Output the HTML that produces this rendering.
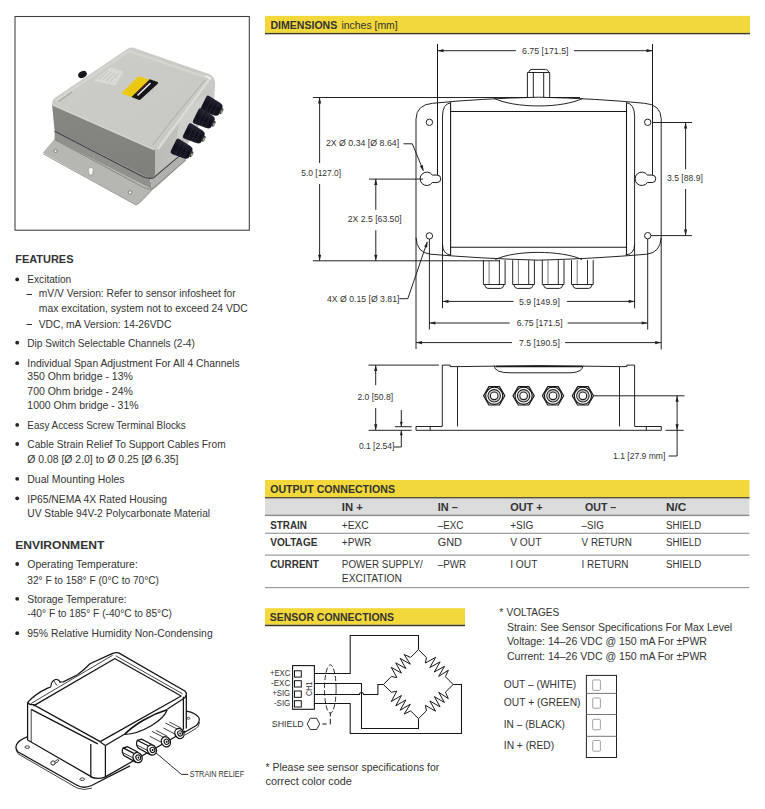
<!DOCTYPE html><html><head><meta charset="utf-8"><title>Junction Box Datasheet</title><style>html,body{margin:0;padding:0;background:#fff;}body{width:765px;height:809px;overflow:hidden;font-family:"Liberation Sans",sans-serif;}svg{display:block;} svg text{font-family:"Liberation Sans",sans-serif;fill:#333;}</style></head><body>
<svg width="765" height="809" viewBox="0 0 765 809">
<rect x="15" y="16.5" width="234.3" height="213.7" fill="#fff" stroke="#3c3c3c" stroke-width="1.05"/>
<defs><linearGradient id="lf" x1="0" y1="0" x2="0" y2="1"><stop offset="0" stop-color="#878884"/><stop offset="1" stop-color="#7f807c"/></linearGradient><linearGradient id="lt" x1="0" y1="0" x2="1" y2="1"><stop offset="0" stop-color="#cdcdc8"/><stop offset="1" stop-color="#c8c8c3"/></linearGradient><linearGradient id="rf" x1="0" y1="0" x2="1" y2="0"><stop offset="0" stop-color="#b9bab6"/><stop offset="1" stop-color="#cacac6"/></linearGradient><linearGradient id="gl" x1="0" y1="0" x2="0" y2="1"><stop offset="0" stop-color="#262636"/><stop offset="0.5" stop-color="#10101c"/><stop offset="1" stop-color="#1a1a26"/></linearGradient></defs>
<path d="M42.8,152.8 L54.6,139 L153,189 L143,199.5 Q140,203 136,205 Z" fill="#b6b7b3"/>
<path d="M43.5,154 L136,205 Q140,203 143,199.5 L153,189" stroke="#8e8f8b" stroke-width="0.9" fill="none"/>
<circle cx="55.6" cy="151" r="1.6" fill="#f0f0f0" stroke="#6e6e6a" stroke-width="0.8"/>
<circle cx="130.1" cy="192.5" r="1.8" fill="#f0f0f0" stroke="#6e6e6a" stroke-width="0.8"/>
<path d="M88.6,171.3 a2.6,2.6 0 1 1 4.4,0 L92.6,175 L89,175 Z" fill="#f4f4f4" stroke="#8a8a86" stroke-width="0.6"/>
<path d="M54.6,131.2 L150,178.3 L152,189 L54.6,139.5 Z" fill="#90918d"/>
<path d="M150,178.3 Q154,178.5 157,176 L186,151 L186,160 L156,187.5 Q154,189.5 152,189 Z" fill="#b0b1ad"/>
<path d="M54.6,139.5 L144,187.7 Q148,189.5 152,189 L186,160" stroke="#7a7b77" stroke-width="0.8" fill="none"/>
<path d="M149,150 L212.7,76.6 Q215.5,80 215,86 L214,101 L184,150 L157,176 Q154.5,178.3 150,178.3 Z" fill="url(#rf)"/>
<path d="M52.1,104.7 L155,149.5 L155,173.5 Q154.5,178.3 149,178 L54.6,131.2 Z" fill="url(#lf)"/>
<path d="M180,118 Q192,102 205,95 Q207,106 198,121 Q188,136 176,142 Z" fill="#cfcfcb"/>
<path d="M54.6,131.2 L143,176.8 Q150,179.5 154,177.5 L184,152" stroke="#45454d" stroke-width="1.1" fill="none"/>
<path d="M52.1,104.7 Q51.8,99.5 56.5,96.8 L128,48.5 Q130.4,46.8 133.5,47.8 L209,74 Q214,76 212.2,79.5 L159,147.5 Q157,150.5 153.5,149.5 Z" fill="url(#lt)"/>
<path d="M56,100.5 L129,51 L207,77.5" stroke="#d6d6d1" stroke-width="2.2" fill="none"/>
<path d="M58.5,101.5 L72,92" stroke="#8a8a86" stroke-width="0.8" fill="none"/>
<path d="M205,80 L172,120 L153,144.6" stroke="#9c9c98" stroke-width="0.7" fill="none"/>
<path d="M210,78.5 L179.3,120 L157.9,149" stroke="#dcdcd7" stroke-width="2.4" fill="none"/>
<path d="M53,105 L154,149.5" stroke="#d3d3ce" stroke-width="1.4" fill="none"/>
<path d="M205.5,76 Q209,77 211,79" stroke="#f4f4f4" stroke-width="1.5" fill="none"/>
<path d="M93.9,80.9 L110.6,67.3 L123.7,71.5 L115.3,85.6 Z" fill="#d9d9d5"/>
<path d="M99.0,79.5 L108.0,71.0" stroke="#a8a8a3" stroke-width="0.5"/>
<path d="M102.5,80.3 L111.5,71.8" stroke="#a8a8a3" stroke-width="0.5"/>
<path d="M106.0,81.1 L115.0,72.6" stroke="#a8a8a3" stroke-width="0.5"/>
<path d="M109.5,81.9 L118.5,73.4" stroke="#a8a8a3" stroke-width="0.5"/>
<path d="M121.1,93.5 L138.3,76.2 L157.7,82 L139.4,99.7 Z" fill="#ebc912"/>
<path d="M131.5,97.1 L149.8,79.3 L157.7,82 Q158.5,83 157.5,84 L140.5,99.6 Q139.5,100.3 138,99.6 Z" fill="#15151a"/>
<path d="M137.5,95.5 L150.5,83" stroke="#ececec" stroke-width="1.6"/>
<path d="M136,94 L148.5,82" stroke="#c03030" stroke-width="0.5"/>
<ellipse cx="82.5" cy="74.5" rx="4.5" ry="3.2" fill="#16161f" transform="rotate(-25 82.5 74.5)"/>
<g transform="translate(213.2,107.2) rotate(26)"><path d="M-8.5,-8.4 L4.5,-7 Q8.5,-6.5 8.5,-3 L8.5,3 Q8.5,6.5 4.5,7 L-8.5,8.4 Q-10.8,8.4 -10.8,6 L-10.8,-6 Q-10.8,-8.4 -8.5,-8.4 Z" fill="url(#gl)"/><path d="M-5,-7.9 L-5,7.9 M-1,-7.5 L-1,7.5 M3,-7.1 L3,7.1" stroke="#2c2c38" stroke-width="0.6"/><ellipse cx="9" cy="0" rx="1.6" ry="3.2" fill="#3a3a3c"/><ellipse cx="9.6" cy="0.2" rx="0.8" ry="1.6" fill="#b0aa88"/></g>
<g transform="translate(205.4,119.8) rotate(26)"><path d="M-8.5,-8.4 L4.5,-7 Q8.5,-6.5 8.5,-3 L8.5,3 Q8.5,6.5 4.5,7 L-8.5,8.4 Q-10.8,8.4 -10.8,6 L-10.8,-6 Q-10.8,-8.4 -8.5,-8.4 Z" fill="url(#gl)"/><path d="M-5,-7.9 L-5,7.9 M-1,-7.5 L-1,7.5 M3,-7.1 L3,7.1" stroke="#2c2c38" stroke-width="0.6"/><ellipse cx="9" cy="0" rx="1.6" ry="3.2" fill="#3a3a3c"/><ellipse cx="9.6" cy="0.2" rx="0.8" ry="1.6" fill="#b0aa88"/></g>
<g transform="translate(195.4,134.8) rotate(26)"><path d="M-8.5,-8.4 L4.5,-7 Q8.5,-6.5 8.5,-3 L8.5,3 Q8.5,6.5 4.5,7 L-8.5,8.4 Q-10.8,8.4 -10.8,6 L-10.8,-6 Q-10.8,-8.4 -8.5,-8.4 Z" fill="url(#gl)"/><path d="M-5,-7.9 L-5,7.9 M-1,-7.5 L-1,7.5 M3,-7.1 L3,7.1" stroke="#2c2c38" stroke-width="0.6"/><ellipse cx="9" cy="0" rx="1.6" ry="3.2" fill="#3a3a3c"/><ellipse cx="9.6" cy="0.2" rx="0.8" ry="1.6" fill="#b0aa88"/></g>
<g transform="translate(183.2,150.2) rotate(26)"><path d="M-8.5,-8.4 L4.5,-7 Q8.5,-6.5 8.5,-3 L8.5,3 Q8.5,6.5 4.5,7 L-8.5,8.4 Q-10.8,8.4 -10.8,6 L-10.8,-6 Q-10.8,-8.4 -8.5,-8.4 Z" fill="url(#gl)"/><path d="M-5,-7.9 L-5,7.9 M-1,-7.5 L-1,7.5 M3,-7.1 L3,7.1" stroke="#2c2c38" stroke-width="0.6"/><ellipse cx="9" cy="0" rx="1.6" ry="3.2" fill="#3a3a3c"/><ellipse cx="9.6" cy="0.2" rx="0.8" ry="1.6" fill="#b0aa88"/></g>
<text x="15.2" y="262.9" font-size="11.4" font-weight="bold" fill="#1e1e1e" textLength="58.3" lengthAdjust="spacingAndGlyphs">FEATURES</text>
<circle cx="17.2" cy="279.4" r="1.9" fill="#222"/>
<text x="27.3" y="283.0" font-size="10.5" textLength="43.9" lengthAdjust="spacingAndGlyphs">Excitation</text>
<rect x="26.5" y="294" width="5.5" height="1" fill="#333"/>
<text x="38.8" y="297.2" font-size="10.5" textLength="196.9" lengthAdjust="spacingAndGlyphs">mV/V Version: Refer to sensor infosheet for</text>
<text x="38.8" y="311.9" font-size="10.5" textLength="209.0" lengthAdjust="spacingAndGlyphs">max excitation, system not to exceed 24 VDC</text>
<rect x="26.5" y="324" width="5.5" height="1" fill="#333"/>
<text x="38.8" y="327.5" font-size="10.5" textLength="132.5" lengthAdjust="spacingAndGlyphs">VDC, mA Version: 14-26VDC</text>
<circle cx="17.2" cy="342.7" r="1.9" fill="#222"/>
<text x="27.3" y="346.5" font-size="10.5" textLength="167.5" lengthAdjust="spacingAndGlyphs">Dip Switch Selectable Channels (2-4)</text>
<circle cx="17.2" cy="363.2" r="1.9" fill="#222"/>
<text x="27.3" y="367.2" font-size="10.5" textLength="212.5" lengthAdjust="spacingAndGlyphs">Individual Span Adjustment For All 4 Channels</text>
<text x="27.3" y="379.7" font-size="10.5" textLength="105.5" lengthAdjust="spacingAndGlyphs">350 Ohm bridge - 13%</text>
<text x="27.3" y="394.5" font-size="10.5" textLength="105.5" lengthAdjust="spacingAndGlyphs">700 Ohm bridge - 24%</text>
<text x="27.3" y="409.2" font-size="10.5" textLength="111.3" lengthAdjust="spacingAndGlyphs">1000 Ohm bridge - 31%</text>
<circle cx="17.2" cy="424.9" r="1.9" fill="#222"/>
<text x="27.3" y="428.6" font-size="10.5" textLength="158.5" lengthAdjust="spacingAndGlyphs">Easy Access Screw Terminal Blocks</text>
<circle cx="17.2" cy="444.0" r="1.9" fill="#222"/>
<text x="27.3" y="447.7" font-size="10.5" textLength="198.4" lengthAdjust="spacingAndGlyphs">Cable Strain Relief To Support Cables From</text>
<text x="27.3" y="463.2" font-size="10.5" textLength="151.2" lengthAdjust="spacingAndGlyphs">Ø 0.08 [Ø 2.0] to Ø 0.25 [Ø 6.35]</text>
<circle cx="17.2" cy="478.8" r="1.9" fill="#222"/>
<text x="27.3" y="482.5" font-size="10.5" textLength="97.3" lengthAdjust="spacingAndGlyphs">Dual Mounting Holes</text>
<circle cx="17.2" cy="498.3" r="1.9" fill="#222"/>
<text x="27.3" y="502.6" font-size="10.5" textLength="139.8" lengthAdjust="spacingAndGlyphs">IP65/NEMA 4X Rated Housing</text>
<text x="27.3" y="516.8" font-size="10.5" textLength="182.8" lengthAdjust="spacingAndGlyphs">UV Stable 94V-2 Polycarbonate Material</text>
<text x="15.2" y="548.8" font-size="11.4" font-weight="bold" fill="#1e1e1e" textLength="89.1" lengthAdjust="spacingAndGlyphs">ENVIRONMENT</text>
<circle cx="17.2" cy="564.0" r="1.9" fill="#222"/>
<text x="27.3" y="567.7" font-size="10.5" textLength="110.5" lengthAdjust="spacingAndGlyphs">Operating Temperature:</text>
<text x="27.3" y="583.6" font-size="10.5" textLength="131.6" lengthAdjust="spacingAndGlyphs">32° F to 158° F (0°C to 70°C)</text>
<circle cx="17.2" cy="598.8" r="1.9" fill="#222"/>
<text x="27.3" y="602.5" font-size="10.5" textLength="99.2" lengthAdjust="spacingAndGlyphs">Storage Temperature:</text>
<text x="27.3" y="617.0" font-size="10.5" textLength="144.6" lengthAdjust="spacingAndGlyphs">-40° F to 185° F (-40°C to 85°C)</text>
<circle cx="17.2" cy="633.2" r="1.9" fill="#222"/>
<text x="27.3" y="637.0" font-size="10.5" textLength="185.4" lengthAdjust="spacingAndGlyphs">95% Relative Humidity Non-Condensing</text>
<path d="M27.3,736.9 Q19,740 17,743.9 Q14.5,748 17.8,751.8 L77.5,785.5 Q83.7,789 91.6,785.5 L130,765.9" stroke="#141414" stroke-width="1.25" fill="none"/>
<path d="M16.5,750 Q17,754 20,755 L77,788 Q84,791 92,788" stroke="#141414" stroke-width="0.8" fill="none"/>
<path d="M186.3,711.1 Q191,711.5 194.9,714 Q200,717 199.2,720.5 Q198.5,724 196.3,725.5 L183.4,733" stroke="#141414" stroke-width="1.25" fill="none"/>
<path d="M199.5,722 Q199,727 196,728.5 L185,735" stroke="#141414" stroke-width="0.8" fill="none"/>
<ellipse cx="27.3" cy="747.1" rx="2.3" ry="1.3" fill="none" stroke="#141414" stroke-width="0.8"/>
<ellipse cx="82.2" cy="779.2" rx="2.3" ry="1.3" fill="none" stroke="#141414" stroke-width="0.8"/>
<ellipse cx="188.4" cy="718.3" rx="1.5" ry="1" fill="none" stroke="#141414" stroke-width="0.7"/>
<circle cx="53" cy="763" r="2.1" fill="none" stroke="#141414" stroke-width="0.9"/>
<path d="M54.6,761.6 L57.5,759.6 Q59,759.5 58.6,761 L55.2,763.6" stroke="#141414" stroke-width="0.8" fill="none"/>
<path d="M27.6,702.4 L27.6,740 L91.6,776.9" stroke="#141414" stroke-width="1.25" fill="none"/>
<path d="M31.2,709.4 L31.2,742" stroke="#141414" stroke-width="0.8" fill="none"/>
<path d="M90.8,743.9 L90.8,776.9 Q97.8,780 105.4,776.9 L105.4,745.5" stroke="#141414" stroke-width="1.25" fill="none"/>
<path d="M31.2,709.4 L97.8,743.9" stroke="#141414" stroke-width="1.25" fill="none"/>
<path d="M27.6,702.4 Q35,694 47.6,688.1 L50.8,687 M59,682 L63.3,681.9 L77.5,674.8 Q84,670 90,663.8 L110.4,654.4 Q114.5,652 118.7,652.9 L184.8,691 Q187,693 186.3,694.6" stroke="#141414" stroke-width="1.25" fill="none"/>
<path d="M50.8,687 Q51,681 55.5,679.5 Q59,679 60.5,682.5" stroke="#141414" stroke-width="1.1" fill="none"/>
<path d="M53.5,680.5 L57,685.5" stroke="#141414" stroke-width="0.8" fill="none"/>
<path d="M31.2,703.4 L112.7,655.2" stroke="#141414" stroke-width="0.8" fill="none"/>
<path d="M33.5,705.9 L115.4,658.3" stroke="#141414" stroke-width="1.25" fill="none"/>
<path d="M115.8,655.8 L182.7,693.9" stroke="#141414" stroke-width="0.8" fill="none"/>
<path d="M115.1,658.7 L181.2,696" stroke="#141414" stroke-width="1.25" fill="none"/>
<path d="M27.6,702.4 Q29,705 33.5,704.7 L100.2,741.6" stroke="#141414" stroke-width="1.25" fill="none"/>
<path d="M100.2,741.6 Q102.5,744 105.4,745.5" stroke="#141414" stroke-width="1.25" fill="none"/>
<path d="M100.2,741.6 L181.2,696 M105.4,745.5 L124.4,734.3 M167.2,709.2 L184.1,698.2 Q186,697 186.3,694.6" stroke="#141414" stroke-width="1.25" fill="none"/>
<path d="M186.3,694.6 L186.3,728.4 M183.4,696.8 L183.4,729.8" stroke="#141414" stroke-width="1.25" fill="none"/>
<path d="M105.4,776.9 L185.3,731" stroke="#141414" stroke-width="1.25" fill="none"/>
<path d="M124.4,734.5 C134,724.5 151,714.5 167.2,709.8" stroke="#141414" stroke-width="1.7" fill="none"/>
<path d="M167.2,709.8 C164,720 142,734 124.4,734.5" stroke="#141414" stroke-width="1.2" fill="none"/>
<path d="M133.79999999999998,753.4 L123.14399999999998,747.88 Q121.64399999999998,749.88 122.44399999999999,752.58 L123.94399999999999,755.58 L136.1,762.4" stroke="#141414" stroke-width="1.25" fill="#fff"/>
<path d="M138.1,752.3000000000001 L127.44399999999999,746.7800000000001 L123.14399999999998,747.88" stroke="#141414" stroke-width="1.25" fill="none"/>
<path d="M133.0,757.9 L122.344,752.38" stroke="#141414" stroke-width="0.8" fill="none"/>
<ellipse cx="137.6" cy="757.6" rx="4.4" ry="5.2" fill="#fff" stroke="#141414" stroke-width="1.4" transform="rotate(-30 137.6 757.6)"/>
<ellipse cx="138.2" cy="757.9" rx="2.3" ry="2.7" fill="none" stroke="#141414" stroke-width="1.1" transform="rotate(-30 137.6 757.6)"/>
<ellipse cx="138.29999999999998" cy="758.0" rx="0.9" ry="1.1" fill="#141414" transform="rotate(-30 137.6 757.6)"/>
<path d="M148.0,745.8 L137.344,740.28 Q135.844,742.28 136.644,744.98 L138.144,747.98 L150.3,754.8" stroke="#141414" stroke-width="1.25" fill="#fff"/>
<path d="M152.3,744.7 L141.644,739.1800000000001 L137.344,740.28" stroke="#141414" stroke-width="1.25" fill="none"/>
<path d="M147.20000000000002,750.3 L136.544,744.78" stroke="#141414" stroke-width="0.8" fill="none"/>
<ellipse cx="151.8" cy="750" rx="4.4" ry="5.2" fill="#fff" stroke="#141414" stroke-width="1.4" transform="rotate(-30 151.8 750)"/>
<ellipse cx="152.4" cy="750.3" rx="2.3" ry="2.7" fill="none" stroke="#141414" stroke-width="1.1" transform="rotate(-30 151.8 750)"/>
<ellipse cx="152.5" cy="750.4" rx="0.9" ry="1.1" fill="#141414" transform="rotate(-30 151.8 750)"/>
<path d="M163.4,737.1999999999999 L151.856,731.2199999999999" stroke="#141414" stroke-width="0.8" fill="none"/>
<path d="M167.4,736.3 L155.856,730.3199999999999" stroke="#141414" stroke-width="0.8" fill="none"/>
<path d="M161.4,742.3 L149.856,736.3199999999999" stroke="#141414" stroke-width="0.8" fill="none"/>
<ellipse cx="165.9" cy="741.8" rx="4.4" ry="5.2" fill="#fff" stroke="#141414" stroke-width="1.4" transform="rotate(-30 165.9 741.8)"/>
<ellipse cx="166.5" cy="742.0999999999999" rx="2.3" ry="2.7" fill="none" stroke="#141414" stroke-width="1.1" transform="rotate(-30 165.9 741.8)"/>
<ellipse cx="166.6" cy="742.1999999999999" rx="0.9" ry="1.1" fill="#141414" transform="rotate(-30 165.9 741.8)"/>
<path d="M176.9,728.9 L165.356,722.92" stroke="#141414" stroke-width="0.8" fill="none"/>
<path d="M180.9,728.0 L169.356,722.02" stroke="#141414" stroke-width="0.8" fill="none"/>
<path d="M174.9,734.0 L163.356,728.02" stroke="#141414" stroke-width="0.8" fill="none"/>
<ellipse cx="179.4" cy="733.5" rx="4.4" ry="5.2" fill="#fff" stroke="#141414" stroke-width="1.4" transform="rotate(-30 179.4 733.5)"/>
<ellipse cx="180.0" cy="733.8" rx="2.3" ry="2.7" fill="none" stroke="#141414" stroke-width="1.1" transform="rotate(-30 179.4 733.5)"/>
<ellipse cx="180.1" cy="733.9" rx="0.9" ry="1.1" fill="#141414" transform="rotate(-30 179.4 733.5)"/>
<path d="M155.9,752.8 L181.4,774.4 L188.2,774.4" stroke="#141414" stroke-width="0.9" fill="none"/>
<text x="189.8" y="776.8" font-size="8.2" textLength="54.3" lengthAdjust="spacingAndGlyphs">STRAIN RELIEF</text>
<rect x="265" y="15.9" width="485" height="17.0" fill="#f2d83a"/>
<rect x="265" y="32.9" width="485" height="1.4" fill="#403c2a"/>
<rect x="265.5" y="34.3" width="484.5" height="0.7" fill="#c4c2bb"/>
<text x="270.4" y="28.8" font-size="11" font-weight="bold" fill="#1e1e1e" textLength="66.9" lengthAdjust="spacingAndGlyphs">DIMENSIONS</text>
<text x="341.5" y="28.8" font-size="10.6" fill="#2a2a2a" textLength="56.2" lengthAdjust="spacingAndGlyphs">inches [mm]</text>
<line x1="437.5" y1="44" x2="437.5" y2="175" stroke="#181818" stroke-width="0.95"/>
<line x1="652.5" y1="44" x2="652.5" y2="122.5" stroke="#181818" stroke-width="0.95"/>
<line x1="437.5" y1="50.7" x2="515.9" y2="50.7" stroke="#181818" stroke-width="0.95"/>
<line x1="574" y1="50.7" x2="652.5" y2="50.7" stroke="#181818" stroke-width="0.95"/>
<path d="M437.50,50.70 L443.50,49.10 L443.50,52.30 Z" fill="#222"/>
<path d="M652.50,50.70 L646.50,52.30 L646.50,49.10 Z" fill="#222"/>
<text x="522.0" y="53.9" font-size="8.8" textLength="46.5" lengthAdjust="spacingAndGlyphs">6.75 [171.5]</text>
<line x1="312.9" y1="97.5" x2="527.4" y2="97.5" stroke="#181818" stroke-width="0.95"/>
<line x1="549.7" y1="97.5" x2="580" y2="97.5" stroke="#181818" stroke-width="0.95"/>
<line x1="319.6" y1="97.5" x2="319.6" y2="163" stroke="#181818" stroke-width="0.95"/>
<line x1="319.6" y1="184" x2="319.6" y2="260.8" stroke="#181818" stroke-width="0.95"/>
<path d="M319.60,97.50 L321.20,103.50 L318.00,103.50 Z" fill="#222"/>
<path d="M319.60,260.80 L318.00,254.80 L321.20,254.80 Z" fill="#222"/>
<text x="301.3" y="176.0" font-size="8.8" textLength="39.8" lengthAdjust="spacingAndGlyphs">5.0 [127.0]</text>
<line x1="312.9" y1="260.8" x2="500" y2="260.8" stroke="#181818" stroke-width="0.95"/>
<line x1="375.8" y1="179" x2="375.8" y2="209.8" stroke="#181818" stroke-width="0.95"/>
<line x1="375.8" y1="230.2" x2="375.8" y2="260.8" stroke="#181818" stroke-width="0.95"/>
<path d="M375.80,179.00 L377.40,185.00 L374.20,185.00 Z" fill="#222"/>
<path d="M375.80,260.80 L374.20,254.80 L377.40,254.80 Z" fill="#222"/>
<text x="347.8" y="222.0" font-size="8.8" textLength="53.8" lengthAdjust="spacingAndGlyphs">2X 2.5 [63.50]</text>
<text x="325.9" y="145.9" font-size="8.8" textLength="73.2" lengthAdjust="spacingAndGlyphs">2X Ø 0.34 [Ø 8.64]</text>
<path d="M403.5,143.8 L412.3,143.8 L423.3,170.5" stroke="#181818" stroke-width="0.95" fill="none"/>
<path d="M423.50,171.30 L419.87,166.26 L422.86,165.12 Z" fill="#222"/>
<text x="327.0" y="301.9" font-size="8.8" textLength="72.4" lengthAdjust="spacingAndGlyphs">4X Ø 0.15 [Ø 3.81]</text>
<path d="M399.4,298.7 L407.8,298.7 L427.3,241.8" stroke="#181818" stroke-width="0.95" fill="none"/>
<path d="M427.50,241.40 L427.20,247.60 L424.15,246.63 Z" fill="#222"/>
<path d="M416,119 Q416.5,104.5 432.7,103.3 Q480,98.5 538.6,97.2 Q597,98.5 644.5,103.3 Q661,104.5 661.2,119 L661.2,237.5 Q660.5,252.5 646.9,254.2 Q597,258.5 538.6,260.2 Q480,258.5 430.3,254.2 Q416.5,252.5 416,237.5 Z" stroke="#181818" stroke-width="0.95" fill="none"/>
<path d="M442.5,116 Q442.5,104 451,102.6 M626.5,102.6 Q634.6,104 634.6,116.4 M634.6,244.3 Q634.6,254 625.6,255 M451,255.2 Q442.5,254 442.5,244" stroke="#181818" stroke-width="0.95" fill="none"/>
<line x1="442.5" y1="116" x2="442.5" y2="308.3" stroke="#181818" stroke-width="0.95"/>
<line x1="634.6" y1="116.4" x2="634.6" y2="308.3" stroke="#181818" stroke-width="0.95"/>
<line x1="450.6" y1="102.6" x2="450.6" y2="255.2" stroke="#181818" stroke-width="1.1"/>
<line x1="626.5" y1="102.6" x2="626.5" y2="255.2" stroke="#181818" stroke-width="1.1"/>
<line x1="450.6" y1="111.5" x2="626.5" y2="111.5" stroke="#181818" stroke-width="1.1"/>
<line x1="450.6" y1="247.3" x2="626.5" y2="247.3" stroke="#181818" stroke-width="1.1"/>
<path d="M494,98.3 C515,108.5 562,108.5 583,98.3" stroke="#181818" stroke-width="0.95" fill="none"/>
<path d="M495.4,259.5 C515,250 561,250 582,259.5" stroke="#181818" stroke-width="0.95" fill="none"/>
<path d="M527.4,97.2 L527.4,72.5 L549.7,72.5 L549.7,97.2" stroke="#181818" stroke-width="0.95" fill="none"/>
<path d="M528.8,72 Q529.5,69.4 532,69.4 L545.5,69.4 Q548,69.4 548.6,72" stroke="#181818" stroke-width="0.95" fill="none"/>
<line x1="533.3" y1="72.5" x2="533.3" y2="97.2" stroke="#181818" stroke-width="0.95"/>
<line x1="543.7" y1="72.5" x2="543.7" y2="97.2" stroke="#181818" stroke-width="0.95"/>
<path d="M483.4,260.2 L483.4,284.5 L505.09999999999997,284.5 L505.09999999999997,260.2" stroke="#181818" stroke-width="0.95" fill="none"/>
<path d="M484.59999999999997,285 Q485.4,288.4 487.9,288.4 L500.59999999999997,288.4 Q503.09999999999997,288.4 503.9,285" stroke="#181818" stroke-width="0.95" fill="none"/>
<line x1="489.09999999999997" y1="260.2" x2="489.09999999999997" y2="284.5" stroke="#555" stroke-width="0.8"/>
<line x1="499.4" y1="260.2" x2="499.4" y2="284.5" stroke="#181818" stroke-width="0.9"/>
<path d="M512.7,260.2 L512.7,284.5 L534.4000000000001,284.5 L534.4000000000001,260.2" stroke="#181818" stroke-width="0.95" fill="none"/>
<path d="M513.9000000000001,285 Q514.7,288.4 517.2,288.4 L529.9000000000001,288.4 Q532.4000000000001,288.4 533.2,285" stroke="#181818" stroke-width="0.95" fill="none"/>
<line x1="518.4000000000001" y1="260.2" x2="518.4000000000001" y2="284.5" stroke="#555" stroke-width="0.8"/>
<line x1="528.7" y1="260.2" x2="528.7" y2="284.5" stroke="#181818" stroke-width="0.9"/>
<path d="M542.3,260.2 L542.3,284.5 L564.0,284.5 L564.0,260.2" stroke="#181818" stroke-width="0.95" fill="none"/>
<path d="M543.5,285 Q544.3,288.4 546.8,288.4 L559.5,288.4 Q562.0,288.4 562.8,285" stroke="#181818" stroke-width="0.95" fill="none"/>
<line x1="548.0" y1="260.2" x2="548.0" y2="284.5" stroke="#555" stroke-width="0.8"/>
<line x1="558.3" y1="260.2" x2="558.3" y2="284.5" stroke="#181818" stroke-width="0.9"/>
<path d="M571.5,260.2 L571.5,284.5 L593.2,284.5 L593.2,260.2" stroke="#181818" stroke-width="0.95" fill="none"/>
<path d="M572.7,285 Q573.5,288.4 576.0,288.4 L588.7,288.4 Q591.2,288.4 592.0,285" stroke="#181818" stroke-width="0.95" fill="none"/>
<line x1="577.2" y1="260.2" x2="577.2" y2="284.5" stroke="#555" stroke-width="0.8"/>
<line x1="587.5" y1="260.2" x2="587.5" y2="284.5" stroke="#181818" stroke-width="0.9"/>
<circle cx="429.4" cy="122.3" r="3.2" fill="#fff" stroke="#181818" stroke-width="0.95"/>
<circle cx="647.7" cy="122.3" r="3.2" fill="#fff" stroke="#181818" stroke-width="0.95"/>
<circle cx="429.4" cy="235.9" r="3.2" fill="#fff" stroke="#181818" stroke-width="0.95"/>
<circle cx="647.7" cy="235.7" r="3.2" fill="#fff" stroke="#181818" stroke-width="0.95"/>
<path d="M432.35,175.05 A6.7,6.7 0 1 0 432.35,182.55 L437.0,182.55 A3.75,3.75 0 0 0 437.0,175.05 Z" stroke="#181818" stroke-width="1.0" fill="#fff"/>
<path d="M647.3499999999999,175.05 A6.7,6.7 0 1 0 647.3499999999999,182.55 L652.0,182.55 A3.75,3.75 0 0 0 652.0,175.05 Z" stroke="#181818" stroke-width="1.0" fill="#fff"/>
<line x1="437.5" y1="44" x2="437.5" y2="175" stroke="#181818" stroke-width="0.95"/>
<line x1="652.5" y1="44" x2="652.5" y2="175" stroke="#181818" stroke-width="0.95"/>
<line x1="369" y1="179.1" x2="423.1" y2="179.1" stroke="#181818" stroke-width="0.95"/>
<line x1="652.3" y1="122.5" x2="692" y2="122.5" stroke="#181818" stroke-width="0.95"/>
<line x1="651" y1="235.6" x2="691.9" y2="235.6" stroke="#181818" stroke-width="0.95"/>
<line x1="685.6" y1="122.5" x2="685.6" y2="169.3" stroke="#181818" stroke-width="0.95"/>
<line x1="685.6" y1="189" x2="685.6" y2="235.6" stroke="#181818" stroke-width="0.95"/>
<path d="M685.60,122.50 L687.20,128.50 L684.00,128.50 Z" fill="#222"/>
<path d="M685.60,235.60 L684.00,229.60 L687.20,229.60 Z" fill="#222"/>
<text x="667.0" y="181.0" font-size="8.8" textLength="35.8" lengthAdjust="spacingAndGlyphs">3.5 [88.9]</text>
<line x1="416" y1="237.5" x2="416" y2="349.1" stroke="#181818" stroke-width="0.95"/>
<line x1="661.2" y1="237.5" x2="661.2" y2="349.5" stroke="#181818" stroke-width="0.95"/>
<line x1="429.4" y1="239" x2="429.4" y2="329.5" stroke="#181818" stroke-width="0.95"/>
<line x1="647.7" y1="239" x2="647.7" y2="329.6" stroke="#181818" stroke-width="0.95"/>
<line x1="442.5" y1="301.4" x2="513.5" y2="301.4" stroke="#181818" stroke-width="0.95"/>
<line x1="566.9" y1="301.4" x2="634.6" y2="301.4" stroke="#181818" stroke-width="0.95"/>
<path d="M442.50,301.40 L448.50,299.80 L448.50,303.00 Z" fill="#222"/>
<path d="M634.60,301.40 L628.60,303.00 L628.60,299.80 Z" fill="#222"/>
<text x="519.0" y="304.9" font-size="8.8" textLength="40.8" lengthAdjust="spacingAndGlyphs">5.9 [149.9]</text>
<line x1="429.4" y1="323.0" x2="509.6" y2="323.0" stroke="#181818" stroke-width="0.95"/>
<line x1="567.6" y1="323.0" x2="647.7" y2="323.0" stroke="#181818" stroke-width="0.95"/>
<path d="M429.40,323.00 L435.40,321.40 L435.40,324.60 Z" fill="#222"/>
<path d="M647.70,323.00 L641.70,324.60 L641.70,321.40 Z" fill="#222"/>
<text x="516.7" y="326.1" font-size="8.8" textLength="45.9" lengthAdjust="spacingAndGlyphs">6.75 [171.5]</text>
<line x1="416" y1="342.6" x2="512" y2="342.6" stroke="#181818" stroke-width="0.95"/>
<line x1="565" y1="342.6" x2="661.2" y2="342.6" stroke="#181818" stroke-width="0.95"/>
<path d="M416.00,342.60 L422.00,341.00 L422.00,344.20 Z" fill="#222"/>
<path d="M661.20,342.60 L655.20,344.20 L655.20,341.00 Z" fill="#222"/>
<text x="519.0" y="345.7" font-size="8.8" textLength="40.8" lengthAdjust="spacingAndGlyphs">7.5 [190.5]</text>
<line x1="368.4" y1="365.1" x2="438.8" y2="365.1" stroke="#181818" stroke-width="0.95"/>
<line x1="375.7" y1="365.1" x2="375.7" y2="385.2" stroke="#181818" stroke-width="0.95"/>
<line x1="375.7" y1="408" x2="375.7" y2="430.3" stroke="#181818" stroke-width="0.95"/>
<path d="M375.70,365.10 L377.30,371.10 L374.10,371.10 Z" fill="#222"/>
<path d="M375.70,430.30 L374.10,424.30 L377.30,424.30 Z" fill="#222"/>
<text x="357.4" y="399.8" font-size="8.8" textLength="35.7" lengthAdjust="spacingAndGlyphs">2.0 [50.8]</text>
<line x1="368.6" y1="430.3" x2="411.7" y2="430.3" stroke="#181818" stroke-width="0.95"/>
<line x1="395" y1="426.7" x2="411.7" y2="426.7" stroke="#181818" stroke-width="0.95"/>
<line x1="401.3" y1="410" x2="401.3" y2="426.7" stroke="#181818" stroke-width="0.95"/>
<path d="M401.30,426.70 L399.90,421.70 L402.70,421.70 Z" fill="#222"/>
<path d="M401.3,430.3 L401.3,447 L393.9,447" stroke="#181818" stroke-width="0.95" fill="none"/>
<path d="M401.30,430.30 L402.70,435.30 L399.90,435.30 Z" fill="#222"/>
<text x="358.9" y="448.6" font-size="8.8" textLength="35.5" lengthAdjust="spacingAndGlyphs">0.1 [2.54]</text>
<path d="M442.3,426.5 L416,426.5 L416,430.3 L661.3,430.3 L661.3,426.5 L634.6,426.5" stroke="#181818" stroke-width="0.95" fill="none"/>
<line x1="430.2" y1="426.5" x2="430.2" y2="430.3" stroke="#181818" stroke-width="0.95"/>
<line x1="646.3" y1="426.5" x2="646.3" y2="430.3" stroke="#181818" stroke-width="0.95"/>
<path d="M442.3,426.4 L442.3,365.1 L450.2,365.1 L450.2,366.6 L457.5,366.6 L457.5,426.4" stroke="#181818" stroke-width="0.95" fill="#fff"/>
<path d="M619.5,426.4 L619.5,366.6 L626.8,366.6 L626.8,365.1 L634.6,365.1 L634.6,426.4" stroke="#181818" stroke-width="0.95" fill="#fff"/>
<path d="M457.5,366.6 Q538.6,364.6 619.5,366.6" stroke="#181818" stroke-width="0.95" fill="none"/>
<path d="M494.2,365.6 Q494.5,372.8 510,372.8 L571,372.8 Q583,372 583,365.6" stroke="#181818" stroke-width="0.95" fill="none"/>
<path d="M496,366.5 L582,366.5" stroke="#181818" stroke-width="1.3" fill="none"/>
<polygon points="504.80,395.80 499.50,404.98 488.90,404.98 483.60,395.80 488.90,386.62 499.50,386.62" fill="#fff" stroke="#181818" stroke-width="1.2"/>
<circle cx="494.2" cy="395.8" r="8.6" fill="none" stroke="#181818" stroke-width="1.2"/>
<circle cx="494.2" cy="395.8" r="6.2" fill="none" stroke="#181818" stroke-width="1.1"/>
<circle cx="494.2" cy="395.8" r="5" fill="none" stroke="#999" stroke-width="0.6"/>
<circle cx="494.2" cy="395.8" r="3.8" fill="none" stroke="#181818" stroke-width="1.1"/>
<polygon points="534.20,395.80 528.90,404.98 518.30,404.98 513.00,395.80 518.30,386.62 528.90,386.62" fill="#fff" stroke="#181818" stroke-width="1.2"/>
<circle cx="523.6" cy="395.8" r="8.6" fill="none" stroke="#181818" stroke-width="1.2"/>
<circle cx="523.6" cy="395.8" r="6.2" fill="none" stroke="#181818" stroke-width="1.1"/>
<circle cx="523.6" cy="395.8" r="5" fill="none" stroke="#999" stroke-width="0.6"/>
<circle cx="523.6" cy="395.8" r="3.8" fill="none" stroke="#181818" stroke-width="1.1"/>
<polygon points="563.60,395.80 558.30,404.98 547.70,404.98 542.40,395.80 547.70,386.62 558.30,386.62" fill="#fff" stroke="#181818" stroke-width="1.2"/>
<circle cx="553.0" cy="395.8" r="8.6" fill="none" stroke="#181818" stroke-width="1.2"/>
<circle cx="553.0" cy="395.8" r="6.2" fill="none" stroke="#181818" stroke-width="1.1"/>
<circle cx="553.0" cy="395.8" r="5" fill="none" stroke="#999" stroke-width="0.6"/>
<circle cx="553.0" cy="395.8" r="3.8" fill="none" stroke="#181818" stroke-width="1.1"/>
<polygon points="593.50,395.80 588.20,404.98 577.60,404.98 572.30,395.80 577.60,386.62 588.20,386.62" fill="#fff" stroke="#181818" stroke-width="1.2"/>
<circle cx="582.9" cy="395.8" r="8.6" fill="none" stroke="#181818" stroke-width="1.2"/>
<circle cx="582.9" cy="395.8" r="6.2" fill="none" stroke="#181818" stroke-width="1.1"/>
<circle cx="582.9" cy="395.8" r="5" fill="none" stroke="#999" stroke-width="0.6"/>
<circle cx="582.9" cy="395.8" r="3.8" fill="none" stroke="#181818" stroke-width="1.1"/>
<line x1="593.7" y1="395.8" x2="684.4" y2="395.8" stroke="#181818" stroke-width="0.95"/>
<line x1="665.5" y1="430.3" x2="683.7" y2="430.3" stroke="#181818" stroke-width="0.95"/>
<line x1="677.1" y1="395.8" x2="677.1" y2="456" stroke="#181818" stroke-width="0.95"/>
<path d="M677.10,395.80 L678.70,401.80 L675.50,401.80 Z" fill="#222"/>
<path d="M677.10,430.30 L675.50,424.30 L678.70,424.30 Z" fill="#222"/>
<line x1="668.6" y1="456" x2="677.1" y2="456" stroke="#181818" stroke-width="0.95"/>
<text x="613.0" y="459.0" font-size="8.8" textLength="52.4" lengthAdjust="spacingAndGlyphs">1.1 [27.9 mm]</text>
<rect x="265" y="498.4" width="484.3" height="16.3" fill="#dcdcdd"/>
<rect x="265" y="480.0" width="484.5" height="17.100000000000023" fill="#f2d83a"/>
<rect x="265" y="497.1" width="484.5" height="1.4" fill="#403c2a"/>
<rect x="265.5" y="498.5" width="484.0" height="0.7" fill="#c4c2bb"/>
<rect x="265" y="514.6" width="484.3" height="1.5" fill="#8c8c8c"/>
<text x="270.2" y="492.8" font-size="10.3" font-weight="bold" fill="#1e1e1e" textLength="124.8" lengthAdjust="spacingAndGlyphs">OUTPUT CONNECTIONS</text>
<rect x="265" y="532.6999999999999" width="484.3" height="1.2" fill="#9a9a9a"/>
<rect x="265" y="554.5" width="484.3" height="1.2" fill="#9a9a9a"/>
<rect x="265" y="587.0" width="484.3" height="1.2" fill="#9a9a9a"/>
<text x="341.8" y="510.6" font-size="10" font-weight="bold" fill="#1e1e1e" textLength="21.0" lengthAdjust="spacingAndGlyphs">IN +</text>
<text x="437.7" y="510.6" font-size="10" font-weight="bold" fill="#1e1e1e" textLength="20.1" lengthAdjust="spacingAndGlyphs">IN –</text>
<text x="510.2" y="510.6" font-size="10" font-weight="bold" fill="#1e1e1e" textLength="32.3" lengthAdjust="spacingAndGlyphs">OUT +</text>
<text x="585.0" y="510.6" font-size="10" font-weight="bold" fill="#1e1e1e" textLength="31.2" lengthAdjust="spacingAndGlyphs">OUT –</text>
<text x="665.9" y="510.6" font-size="10" font-weight="bold" fill="#1e1e1e" textLength="20.4" lengthAdjust="spacingAndGlyphs">N/C</text>
<text x="270.2" y="528.6" font-size="10" font-weight="bold" fill="#1e1e1e" textLength="36.8" lengthAdjust="spacingAndGlyphs">STRAIN</text>
<text x="270.2" y="545.7" font-size="10" font-weight="bold" fill="#1e1e1e" textLength="47.3" lengthAdjust="spacingAndGlyphs">VOLTAGE</text>
<text x="270.2" y="567.6" font-size="10" font-weight="bold" fill="#1e1e1e" textLength="48.6" lengthAdjust="spacingAndGlyphs">CURRENT</text>
<text x="341.8" y="528.6" font-size="10" textLength="26.9" lengthAdjust="spacingAndGlyphs">+EXC</text>
<text x="341.8" y="545.7" font-size="10" textLength="29.5" lengthAdjust="spacingAndGlyphs">+PWR</text>
<text x="341.8" y="567.6" font-size="10" textLength="81.0" lengthAdjust="spacingAndGlyphs">POWER SUPPLY/</text>
<text x="341.8" y="582.3" font-size="10" textLength="60.1" lengthAdjust="spacingAndGlyphs">EXCITATION</text>
<text x="437.7" y="528.6" font-size="10" textLength="25.6" lengthAdjust="spacingAndGlyphs">–EXC</text>
<text x="437.7" y="545.7" font-size="10" textLength="24.3" lengthAdjust="spacingAndGlyphs">GND</text>
<text x="437.7" y="567.6" font-size="10" textLength="28.3" lengthAdjust="spacingAndGlyphs">–PWR</text>
<text x="510.2" y="528.6" font-size="10" textLength="23.1" lengthAdjust="spacingAndGlyphs">+SIG</text>
<text x="510.2" y="545.7" font-size="10" textLength="31.3" lengthAdjust="spacingAndGlyphs">V OUT</text>
<text x="510.2" y="567.6" font-size="10" textLength="27.2" lengthAdjust="spacingAndGlyphs">I OUT</text>
<text x="581.6" y="528.6" font-size="10" textLength="22.1" lengthAdjust="spacingAndGlyphs">–SIG</text>
<text x="581.6" y="545.7" font-size="10" textLength="50.3" lengthAdjust="spacingAndGlyphs">V RETURN</text>
<text x="581.6" y="567.6" font-size="10" textLength="46.9" lengthAdjust="spacingAndGlyphs">I RETURN</text>
<text x="665.9" y="528.6" font-size="10" textLength="35.3" lengthAdjust="spacingAndGlyphs">SHIELD</text>
<text x="665.9" y="545.7" font-size="10" textLength="35.3" lengthAdjust="spacingAndGlyphs">SHIELD</text>
<text x="665.9" y="567.6" font-size="10" textLength="35.3" lengthAdjust="spacingAndGlyphs">SHIELD</text>
<rect x="265" y="608.2" width="200" height="16.5" fill="#f2d83a"/>
<rect x="265" y="624.7" width="200" height="1.4" fill="#403c2a"/>
<rect x="265.5" y="626.1" width="199.5" height="0.7" fill="#c4c2bb"/>
<text x="269.8" y="620.7" font-size="10.2" font-weight="bold" fill="#1e1e1e" textLength="124.3" lengthAdjust="spacingAndGlyphs">SENSOR CONNECTIONS</text>
<rect x="292.6" y="665.6" width="21.8" height="43.7" fill="#fff" stroke="#161616" stroke-width="1.1"/>
<rect x="294.5" y="670.8" width="6.8" height="6.3" fill="none" stroke="#161616" stroke-width="1"/>
<rect x="294.5" y="680.7" width="6.8" height="6.3" fill="none" stroke="#161616" stroke-width="1"/>
<rect x="294.5" y="691.0" width="6.8" height="6.3" fill="none" stroke="#161616" stroke-width="1"/>
<rect x="294.5" y="700.7" width="6.8" height="6.3" fill="none" stroke="#161616" stroke-width="1"/>
<text x="0" y="0" font-size="9.8" fill="#222" transform="translate(312.4,695.9) rotate(-90)" textLength="14" lengthAdjust="spacingAndGlyphs">CH1</text>
<text x="269.9" y="676.4" font-size="8.4" fill="#111" textLength="20.3" lengthAdjust="spacingAndGlyphs">+EXC</text>
<text x="271.1" y="686.2" font-size="8.4" fill="#111" textLength="19.1" lengthAdjust="spacingAndGlyphs">-EXC</text>
<text x="272.2" y="695.9" font-size="8.4" fill="#111" textLength="18.0" lengthAdjust="spacingAndGlyphs">+SIG</text>
<text x="274.0" y="706.0" font-size="8.4" fill="#111" textLength="16.2" lengthAdjust="spacingAndGlyphs">-SIG</text>
<text x="271.8" y="727.0" font-size="9.6" fill="#1a1a1a" textLength="31.9" lengthAdjust="spacingAndGlyphs">SHIELD</text>
<path d="M314.4,673.5 L350.2,673.5 L350.2,635.5 L418.5,635.5 L418.5,649.6" stroke="#161616" stroke-width="1.05" fill="none"/>
<path d="M314.4,683.5 L361.5,683.5 L361.5,728.5 L418.5,728.5 L418.5,718.6" stroke="#161616" stroke-width="1.05" fill="none"/>
<path d="M314.4,694.5 L359.5,694.5 A2,2 0 0 1 363.5,694.5 L377.9,694.5 L377.9,684.5 L383.4,684.5" stroke="#161616" stroke-width="1.05" fill="none"/>
<path d="M314.4,703.5 L350.2,703.5 L350.2,733.5 L461.5,733.5 L461.5,684.5 L453.2,684.5" stroke="#161616" stroke-width="1.05" fill="none"/>
<path d="M383.40,684.50 L391.42,676.52 L396.89,677.58 L391.21,667.28 L401.40,673.09 L395.72,662.80 L405.91,668.60 L400.17,658.38 L410.35,664.19 L404.11,654.46 L410.62,657.43 L418.50,649.60" stroke="#161616" stroke-width="1.0" fill="none"/>
<path d="M418.50,649.60 L426.43,657.58 L425.36,663.03 L435.64,657.34 L429.83,667.52 L440.11,661.83 L434.29,672.00 L444.50,666.24 L438.68,676.42 L448.39,670.16 L445.41,676.67 L453.20,684.50" stroke="#161616" stroke-width="1.0" fill="none"/>
<path d="M383.40,684.50 L391.42,692.29 L396.85,691.15 L391.27,701.48 L401.36,695.54 L395.78,705.87 L405.87,699.92 L400.22,710.18 L410.32,704.24 L404.16,714.01 L410.62,710.94 L418.50,718.60" stroke="#161616" stroke-width="1.0" fill="none"/>
<path d="M418.50,718.60 L426.43,710.81 L425.40,705.37 L435.59,711.20 L429.86,700.98 L440.05,706.82 L434.33,696.60 L444.44,702.50 L438.72,692.28 L448.34,698.67 L445.41,692.16 L453.20,684.50" stroke="#161616" stroke-width="1.0" fill="none"/>
<ellipse cx="330.3" cy="689" rx="5.8" ry="24.2" fill="none" stroke="#161616" stroke-width="0.9" stroke-dasharray="5,2.5"/>
<path d="M330.3,712.5 L330.3,716.4 M330.3,718.7 L330.3,724.4 M326.6,724 L322.3,724" stroke="#161616" stroke-width="1.0" fill="none"/>
<polygon points="307.2,723.9 310.3,718.3 316.6,718.3 319.7,723.9 316.6,729.5 310.3,729.5" fill="#fff" stroke="#161616" stroke-width="0.9"/>
<text x="265.5" y="770.6" font-size="10.2" textLength="173.8" lengthAdjust="spacingAndGlyphs">* Please see sensor specifications for</text>
<text x="265.5" y="785.3" font-size="10.2" textLength="86.4" lengthAdjust="spacingAndGlyphs">correct color code</text>
<text x="499.2" y="615.6" font-size="10.2">*</text>
<text x="506.6" y="615.6" font-size="10.2" textLength="52.6" lengthAdjust="spacingAndGlyphs">VOLTAGES</text>
<text x="506.9" y="630.6" font-size="10.2" textLength="225.2" lengthAdjust="spacingAndGlyphs">Strain: See Sensor Specifications For Max Level</text>
<text x="506.9" y="644.5" font-size="10.2" textLength="200.1" lengthAdjust="spacingAndGlyphs">Voltage: 14–26 VDC @ 150 mA For ±PWR</text>
<text x="506.9" y="659.5" font-size="10.2" textLength="200.1" lengthAdjust="spacingAndGlyphs">Current: 14–26 VDC @ 150 mA For ±PWR</text>
<rect x="586.4" y="675.4" width="30.1" height="82.1" fill="#fff" stroke="#222" stroke-width="1"/>
<rect x="586.4" y="692.9" width="30.1" height="1" fill="#777"/>
<rect x="586.4" y="714.0" width="30.1" height="1" fill="#777"/>
<rect x="586.4" y="735.8" width="30.1" height="1" fill="#777"/>
<rect x="592.7" y="679.9" width="7.7" height="10.5" rx="1" fill="none" stroke="#999" stroke-width="0.9"/>
<rect x="592.7" y="698" width="7.7" height="10.200000000000045" rx="1" fill="none" stroke="#999" stroke-width="0.9"/>
<rect x="592.7" y="719.3" width="7.7" height="10.5" rx="1" fill="none" stroke="#999" stroke-width="0.9"/>
<rect x="592.7" y="740.5" width="7.7" height="10.700000000000045" rx="1" fill="none" stroke="#999" stroke-width="0.9"/>
<text x="503.8" y="687.8" font-size="10.2" textLength="72.4" lengthAdjust="spacingAndGlyphs">OUT – (WHITE)</text>
<text x="503.8" y="705.7" font-size="10.2" textLength="76.7" lengthAdjust="spacingAndGlyphs">OUT + (GREEN)</text>
<text x="503.8" y="727.8" font-size="10.2" textLength="61.2" lengthAdjust="spacingAndGlyphs">IN – (BLACK)</text>
<text x="503.8" y="749.0" font-size="10.2" textLength="50.3" lengthAdjust="spacingAndGlyphs">IN + (RED)</text>
</svg></body></html>
